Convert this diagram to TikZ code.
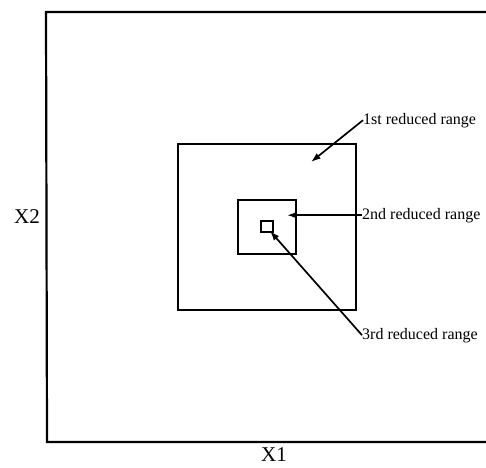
\documentclass[tikz,border=0pt]{standalone}
\usepackage{fontspec}
\setmainfont{Liberation Serif}
\usetikzlibrary{arrows.meta,positioning}
\tikzset{
  frame/.style={draw=black, line width=2.2pt},
  rangebox/.style={draw=black, line width=1.3pt, inner sep=0pt},
  lbl/.style={inner sep=0pt, anchor=base west, font=\fontsize{16}{18}\selectfont},
  axislbl/.style={inner sep=0pt, font=\fontsize{21}{23}\selectfont},
  arr/.style={-{Latex[length=3.4mm,width=2.4mm]}, line width=1.7pt}
}

\begin{document}
\begin{tikzpicture}[x=1pt, y=-1pt]
  \useasboundingbox (0,0) rectangle (486,467);
  % search space, open to the right
  \draw[frame] (486,12) coordinate (tr) -- (46,12) coordinate (tl)
    -- (47,442) coordinate (bl) -- (486,442) coordinate (br);
  \node[axislbl] (x2) at (27,217) {X2};
  \node[axislbl] (x1) at (274,455) {X1};

  % nested ranges
  \node[rangebox, minimum width=178pt, minimum height=166pt] (r1) at (267,227) {};
  \node[rangebox, minimum width=58pt, minimum height=54pt] (r2) at (267,227) {};
  \node[rangebox, minimum width=12pt, minimum height=11pt] (r3) at (267,226.5) {};

  \node[lbl] (l1) at (363,124) {1st reduced range};
  \node[lbl] (l2) at (362,219) {2nd reduced range};
  \node[lbl] (l3) at (362,339) {3rd reduced range};

  \coordinate (t1) at (311,162);
  \coordinate (t2) at (287,214);
  \coordinate (t3) at (270,231);
  \draw[arr] (l1.west) -- (t1);
  \draw[arr] (l2.west) -- (l2.west -| t2);
  \draw[arr] (l3.west) -- (t3);
\end{tikzpicture}
\end{document}
